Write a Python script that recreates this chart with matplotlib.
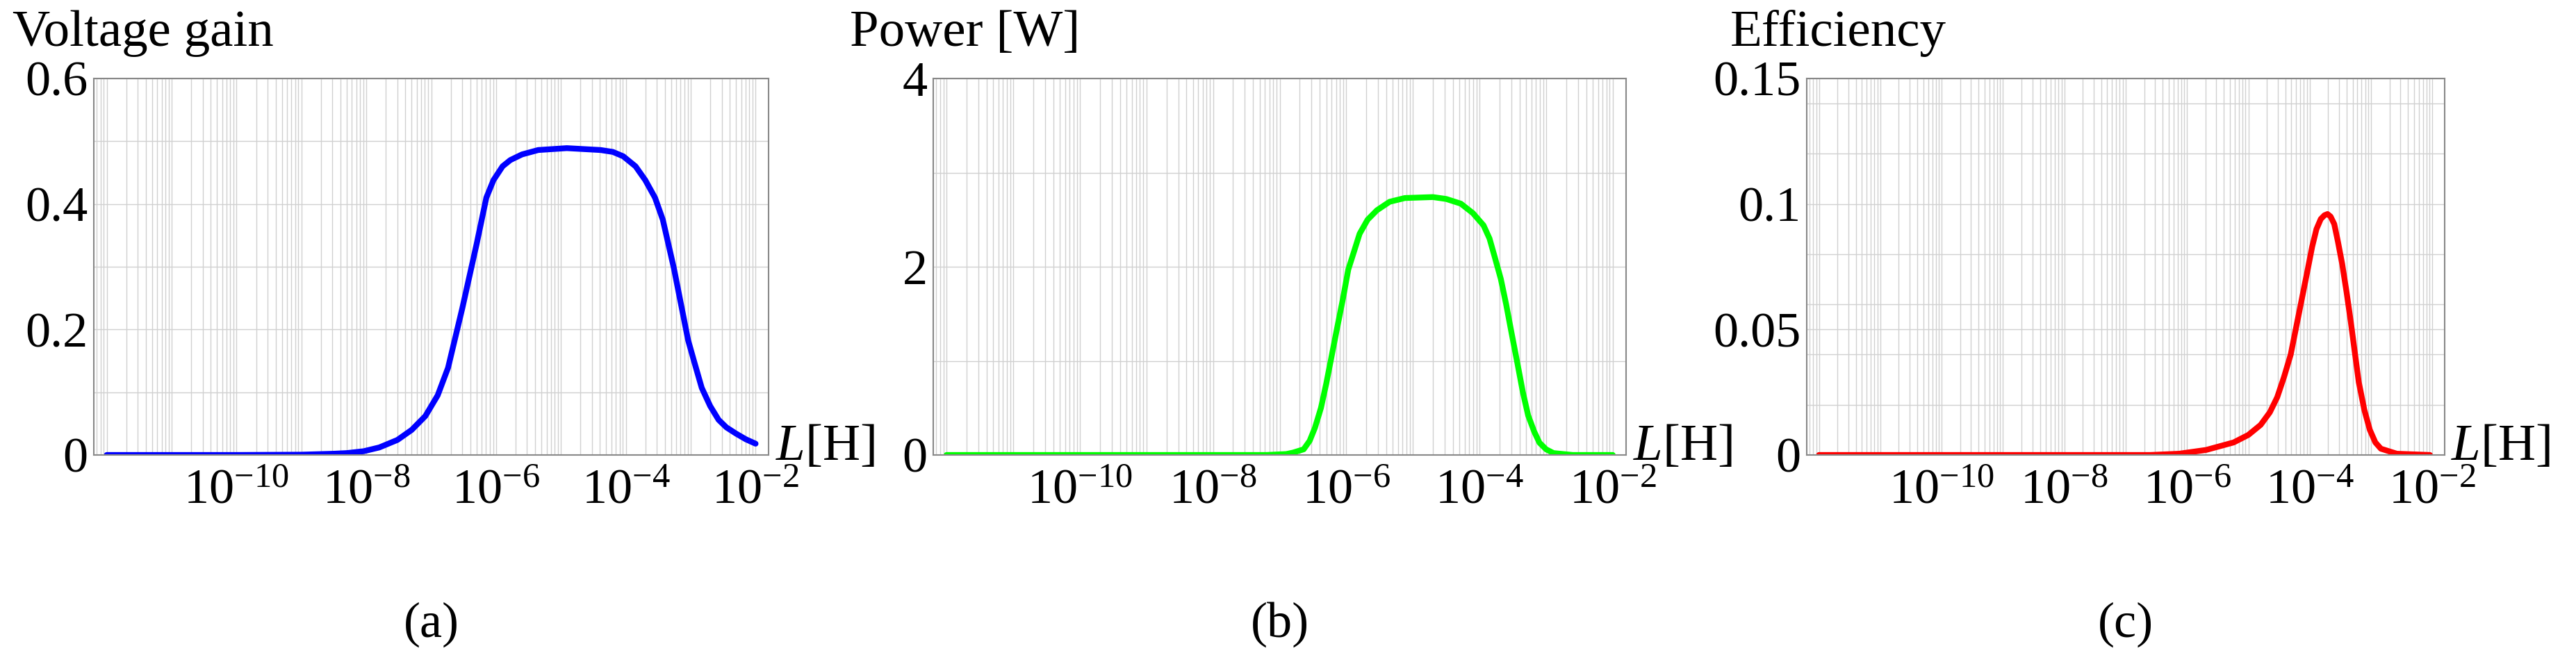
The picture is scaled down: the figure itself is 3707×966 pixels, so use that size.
import matplotlib
matplotlib.use("Agg")
import matplotlib.pyplot as plt
from matplotlib.ticker import FixedLocator, NullFormatter
import numpy as np

plt.rcParams['font.family'] = ['Liberation Serif', 'DejaVu Serif']
plt.rcParams['mathtext.fontset'] = 'custom'
plt.rcParams['mathtext.rm'] = 'Liberation Serif'
plt.rcParams['mathtext.it'] = 'Liberation Serif:italic'

# log10(L) and values
gain_logL = [-12, -11, -10, -9, -8.5, -8.3, -8.04, -7.8, -7.52, -7.3, -7.09, -6.9, -6.74, -6.52, -6.3,
             -6.15, -6.04, -5.9, -5.78, -5.6, -5.35, -4.91, -4.39, -4.2, -4.04, -3.85, -3.7, -3.55,
             -3.43, -3.26, -3.04, -2.95, -2.83, -2.7, -2.57, -2.45, -2.3, -2.15, -2.0]
gain_val = [0, 0, 0, 0.0005, 0.002, 0.003, 0.006, 0.012, 0.024, 0.04, 0.062, 0.095, 0.139, 0.234, 0.336,
            0.41, 0.438, 0.46, 0.47, 0.479, 0.486, 0.489, 0.486, 0.483, 0.476, 0.46, 0.438, 0.41,
            0.375, 0.298, 0.183, 0.15, 0.107, 0.078, 0.056, 0.044, 0.034, 0.025, 0.018]

power_logL = [-12, -9, -7.2, -6.9, -6.8, -6.64, -6.55, -6.47, -6.38, -6.3, -6.22, -6.14, -6.05, -5.97,
              -5.88, -5.8, -5.68, -5.54, -5.35, -5.12, -4.7, -4.5, -4.28, -4.1, -3.94, -3.85, -3.77,
              -3.68, -3.6, -3.52, -3.43, -3.35, -3.27, -3.18, -3.1, -3.0, -2.89, -2.6, -2.0]
power_val = [0, 0, 0, 0.01, 0.025, 0.06, 0.15, 0.29, 0.5, 0.76, 1.05, 1.34, 1.66, 1.97,
             2.17, 2.35, 2.5, 2.6, 2.69, 2.73, 2.74, 2.72, 2.67, 2.57, 2.44, 2.3, 2.1,
             1.87, 1.6, 1.3, 0.97, 0.67, 0.42, 0.25, 0.13, 0.06, 0.02, 0, 0]

eff_logL = [-12, -9, -6.6, -6.13, -5.69, -5.24, -5.0, -4.8, -4.65, -4.53, -4.42, -4.31, -4.22, -4.13,
            -4.04, -3.96, -3.89, -3.82, -3.76, -3.71, -3.66, -3.6, -3.54, -3.47, -3.4, -3.33, -3.26,
            -3.2, -3.11, -3.02, -2.93, -2.84, -2.58, -2.04]
eff_val = [0, 0, 0, 0.0005, 0.002, 0.005, 0.008, 0.012, 0.017, 0.023, 0.031, 0.04, 0.051, 0.062,
           0.073, 0.083, 0.09, 0.094, 0.0955, 0.096, 0.095, 0.092, 0.085, 0.076, 0.065, 0.053, 0.04,
           0.029, 0.018, 0.010, 0.005, 0.0025, 0.0005, 0]

titles = ["Voltage gain", "Power [W]", "Efficiency"]
letters = ["(a)", "(b)", "(c)"]
colors = ["#0000ff", "#00ff00", "#ff0000"]
ylims = [0.6, 4, 0.15]
yticks = [[0, 0.2, 0.4, 0.6], [0, 2, 4], [0, 0.05, 0.1, 0.15]]
ytick_labels = [["0", "0.2", "0.4", "0.6"], ["0", "2", "4"], ["0", "0.05", "0.1", "0.15"]]
ygrid = [np.arange(0, 0.61, 0.1), np.arange(0, 4.1, 1), np.arange(0, 0.151, 0.02)]
xdec = [-10, -8, -6, -4, -2]

series = [(gain_logL, gain_val), (power_logL, power_val), (eff_logL, eff_val)]

W, H = 3707, 966
fig = plt.figure(figsize=(W / 100, H / 100), dpi=100)
boxes = [(135, 1106), (1343, 2340), (2600, 3518)]
top, bot = 113, 655

for i, (l, r) in enumerate(boxes):
    ax = fig.add_axes([l / W, 1 - bot / H, (r - l) / W, (bot - top) / H])
    lx, v = series[i]
    ax.plot(10.0 ** np.array(lx), v, color=colors[i], lw=6, solid_capstyle='round',
            solid_joinstyle='round')
    ax.set_xscale('log')
    ax.set_xlim(10 ** -12.2, 10 ** -1.8)
    ax.set_ylim(0, ylims[i])
    ax.set_yticks(yticks[i])
    ax.set_yticklabels(ytick_labels[i], fontsize=52)
    ax.yaxis.set_minor_locator(FixedLocator(ygrid[i]))
    ax.set_xticks([10.0 ** d for d in xdec])
    ax.set_xticklabels([r'$\mathregular{10^{%d}}$' % d for d in xdec], fontsize=52)
    ax.xaxis.set_minor_locator(matplotlib.ticker.LogLocator(base=10, subs=np.arange(1, 10), numticks=100))
    ax.xaxis.set_minor_formatter(NullFormatter())
    ax.tick_params(which='both', length=0)
    ax.tick_params(axis='x', pad=14)
    ax.tick_params(axis='y', pad=6)
    ax.grid(True, which='both', color='#d0d0d0', lw=1.0)
    ax.set_axisbelow(True)
    for s in ax.spines.values():
        s.set_color('#888888')
        s.set_linewidth(1.5)
    ax.text(-0.12, 1.12, titles[i], transform=ax.transAxes, fontsize=54, ha='left', va='center')
    ax.text(1.01, 0.02, r'$\mathit{L}$[H]', transform=ax.transAxes, fontsize=54, ha='left', va='center')
    ax.text(0.5, -0.45, letters[i], transform=ax.transAxes, fontsize=52, ha='center', va='center')

fig.savefig("out.png", dpi=100, facecolor='white')
